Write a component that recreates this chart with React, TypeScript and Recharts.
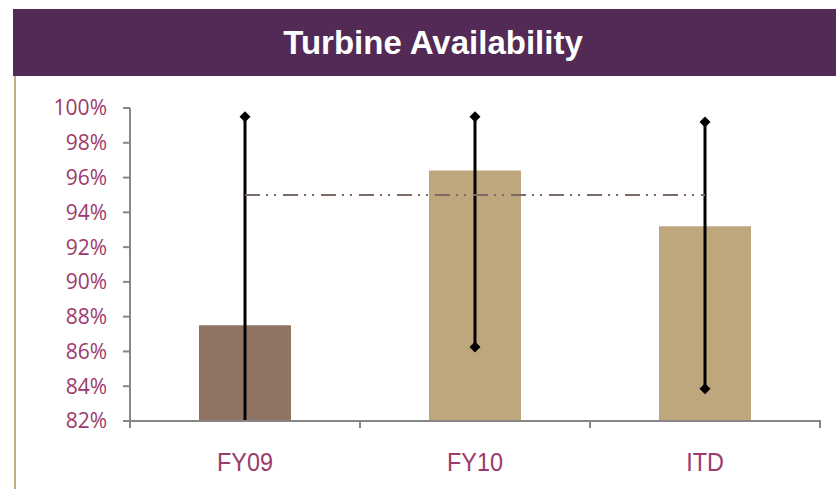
import React from 'react';
import { ComposedChart, Bar, Cell, XAxis, YAxis, ErrorBar, Line, Scatter } from 'recharts';

const categories = ['FY09', 'FY10', 'ITD'];
const availability = [87.5, 96.4, 93.2];
const highs = [99.5, 99.5, 99.2];
const lows = [82, 86.25, 83.85];
const lowMarkers: (number | null)[] = [null, 86.25, 83.85];
const target = [95, 95, 95];
const barColors = ['#8f7464', '#bfa77d', '#bfa77d'];
const yTicks = [82, 84, 86, 88, 90, 92, 94, 96, 98, 100];

const data = categories.map((name, i) => ({
  name,
  value: availability[i],
  err: [availability[i] - lows[i], highs[i] - availability[i]],
  high: highs[i],
  low: lowMarkers[i],
  target: target[i],
}));

const AXIS = '#878787';
const LABEL = '#9c3a6c';

const makeDiamond = (key: string) => (p: any) => {
  if (!p || p.payload == null || p.payload[key] == null || !Number.isFinite(p.cx) || !Number.isFinite(p.cy)) {
    return <g />;
  }
  const r = 5.5;
  const { cx, cy } = p;
  return <path d={`M${cx},${cy - r}L${cx + r},${cy}L${cx},${cy + r}L${cx - r},${cy}Z`} fill="#000" />;
};

const CategoryTick = (props: any) => {
  const { x, y, payload, index, visibleTicksCount } = props;
  const half = payload && Number.isFinite(payload.offset) ? payload.offset : 0;
  const isLast = index === (visibleTicksCount ?? 3) - 1;
  return (
    <g>
      <line x1={x - half} x2={x - half} y1={y} y2={y + 7} stroke={AXIS} strokeWidth={2} />
      {isLast && <line x1={x + half} x2={x + half} y1={y - 1} y2={y + 7} stroke={AXIS} strokeWidth={2} />}
      <g transform={`translate(${x},${y + 32}) scale(0.9,1)`}>
        <text
          x={0}
          y={0}
          dy="0.71em"
          textAnchor="middle"
          fill={LABEL}
          fontSize={26}
          fontFamily='"Liberation Sans", Arial, sans-serif'
        >
          {payload.value}
        </text>
      </g>
    </g>
  );
};

export default function App() {
  return (
    <div style={{ position: 'absolute', left: 0, top: 0, width: 836, height: 489, background: '#fff', overflow: 'hidden' }}>
      <div
        style={{
          position: 'absolute',
          left: 13,
          top: 9,
          width: 823,
          height: 67,
          background: '#522a55',
          color: '#fff',
          fontFamily: '"Liberation Sans", Arial, sans-serif',
          fontWeight: 'bold',
          fontSize: 33,
          lineHeight: '67px',
          textAlign: 'center',
          paddingLeft: 17,
          boxSizing: 'border-box',
        }}
      >
        Turbine Availability
      </div>
      <div style={{ position: 'absolute', left: 14, top: 76, width: 2, height: 413, background: '#c8ab7e' }} />
      <div style={{ position: 'absolute', left: 0, top: 0 }}>
        <ComposedChart width={836} height={489} data={data} margin={{ top: 108, right: 16, bottom: 0, left: 0 }}>
          <XAxis
            dataKey="name"
            height={68}
            axisLine={{ stroke: AXIS, strokeWidth: 2 }}
            tickLine={false}
            tickSize={0}
            tickMargin={0}
            interval={0}
            tick={<CategoryTick />}
          />
          <YAxis
            domain={[82, 100]}
            ticks={yTicks}
            interval={0}
            allowDataOverflow
            width={130}
            tickSize={7}
            tickMargin={16}
            tickFormatter={(v: number) => `${v}%`}
            axisLine={{ stroke: AXIS, strokeWidth: 2 }}
            tickLine={{ stroke: AXIS, strokeWidth: 2 }}
            tick={{ fill: LABEL, fontSize: 21, fontFamily: '"Open Sans", sans-serif' }}
          />
          <Bar dataKey="value" barSize={92} isAnimationActive={false}>
            {data.map((d, i) => (
              <Cell key={d.name} fill={barColors[i]} />
            ))}
            <ErrorBar dataKey="err" direction="y" width={0} strokeWidth={3} stroke="#000" isAnimationActive={false} />
          </Bar>
          <Line
            dataKey="target"
            stroke="#7d6b66"
            strokeWidth={2}
            strokeDasharray="15 6 2 6 2 7"
            dot={false}
            activeDot={false}
            isAnimationActive={false}
          />
          <Scatter dataKey="high" shape={makeDiamond('high')} isAnimationActive={false} />
          <Scatter dataKey="low" shape={makeDiamond('low')} isAnimationActive={false} />
        </ComposedChart>
      </div>
    </div>
  );
}
